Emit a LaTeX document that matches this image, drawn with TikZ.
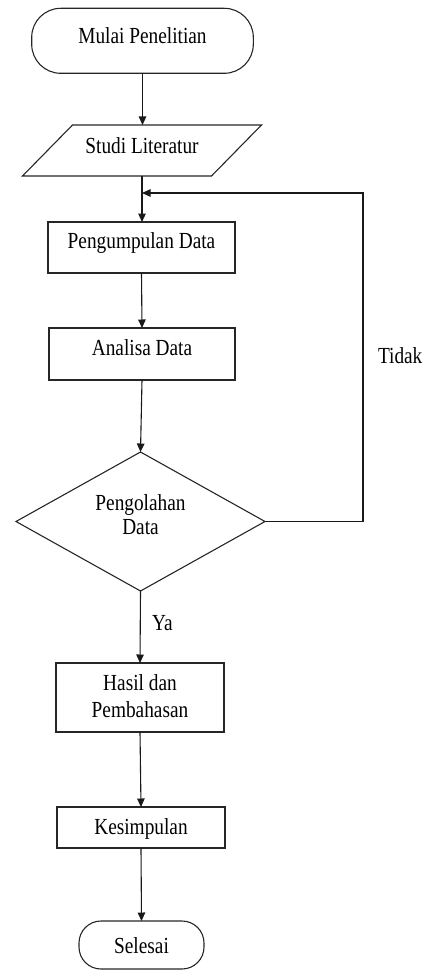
\documentclass[tikz,border=0pt]{standalone}
\usepackage{fontspec}
\setmainfont{Liberation Serif}[FakeStretch=0.84]
\usetikzlibrary{arrows.meta,shapes.geometric}
\begin{document}
\begin{tikzpicture}[x=1pt,y=-1pt,
  every node/.style={font=\fontsize{23}{24}\selectfont, inner sep=0pt, outer sep=0pt},
  shp/.style={draw=black!85, line width=1.1pt},
  boxn/.style={shp, rectangle},
  term/.style={shp, rectangle},
  arr/.style={draw=black!90, line width=1.1pt, -{Triangle[length=8.5pt,width=7.5pt]}},
  ln/.style={draw=black!85, line width=1.1pt}]
\useasboundingbox (0,0) rectangle (431,971);
\node[term, rounded corners=29pt, minimum width=221.6pt, minimum height=65pt,
      text height=16pt, text depth=10.4pt] (start) at (142.5,40.8) {Mulai Penelitian};
\node[minimum width=189pt, minimum height=51pt, text height=16pt, text depth=10.4pt] (lit) at (142,150.5) {Studi Literatur};
\draw[shp] ([xshift=25pt]lit.north west) -- ([xshift=25pt]lit.north east)
  -- ([xshift=-25pt]lit.south east) -- ([xshift=-25pt]lit.south west) -- cycle;
\node[boxn, minimum width=187pt, minimum height=51pt, text height=16pt, text depth=14.4pt] (kumpul) at (141.5,247.5) {Pengumpulan Data};
\node[boxn, minimum width=186pt, minimum height=52pt, text height=16pt, text depth=14pt] (analisa) at (142,354) {Analisa Data};
\node[shp, diamond, minimum width=249pt, minimum height=139pt, align=center,
      text height=30pt, text depth=4.4pt] (olah) at (140.5,521.5) {Pengolahan\\Data};
\node[boxn, minimum width=168pt, minimum height=69pt, align=center,
      text height=42pt, text depth=2.4pt] (hasil) at (140,697.5) {Hasil dan\\[2.6pt]Pembahasan};
\node[boxn, minimum width=168pt, minimum height=41pt, text height=16pt, text depth=2.4pt] (simpul) at (141,827.5) {Kesimpulan};
\node[term, rounded corners=22pt, minimum width=125pt, minimum height=48pt,
      text height=16pt, text depth=0pt] (selesai) at (141.5,945) {Selesai};
\node[anchor=base west] (ya) at (152,630) {Ya};
\node[anchor=base west] (tidak) at (378,363.3) {Tidak};
\coordinate (join) at (142,193);
\coordinate (turn) at (363,193);
\draw[arr] (start.south) -- (start.south |- lit.north);
\draw[arr] (lit.south -| join) -- (kumpul.north -| join);
\draw[arr] (kumpul.south) -- (analisa.north);
\draw[arr] (analisa.south) -- (olah.north);
\draw[arr] (olah.south) -- (hasil.north);
\draw[arr] (hasil.south) -- (simpul.north);
\draw[arr] (simpul.south) -- (selesai.north);
\draw[arr] (olah.east) -| (turn) -- (join);
\end{tikzpicture}
\end{document}
